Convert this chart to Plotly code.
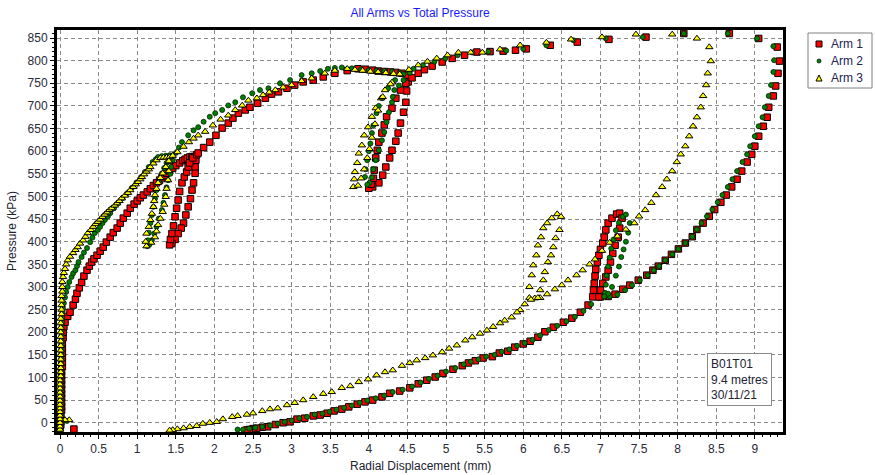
import plotly.graph_objects as go

# ---------------- data (radial displacement mm, pressure kPa) ----------------
series_names = ["Arm 1", "Arm 2", "Arm 3"]

arm1_pts = [
    (0.18, -14), (0.0, -12), (0.01, -5), (0.01, 2), (0.01, 10), (0.01, 18), (0.02, 27), (0.02, 36),
    (0.02, 45), (0.02, 55), (0.02, 64), (0.02, 74), (0.02, 84), (0.02, 94), (0.02, 104), (0.02, 114),
    (0.03, 124), (0.03, 134), (0.03, 144), (0.03, 154), (0.03, 165), (0.03, 176), (0.04, 188),
    (0.04, 200), (0.05, 212), (0.065, 222), (0.1, 235), (0.13, 244), (0.17, 260), (0.2, 273),
    (0.22, 286), (0.25, 298), (0.28, 310), (0.31, 324), (0.35, 337), (0.38, 346), (0.41, 355),
    (0.44, 362), (0.48, 370), (0.52, 379), (0.56, 388), (0.6, 399), (0.65, 410), (0.69, 420),
    (0.74, 430), (0.78, 441), (0.82, 452), (0.87, 463), (0.91, 474), (0.96, 483), (1.0, 490),
    (1.04, 497), (1.08, 503), (1.13, 510), (1.17, 517), (1.21, 524), (1.25, 530), (1.29, 536),
    (1.32, 541), (1.35, 546), (1.38, 551), (1.42, 557), (1.46, 562), (1.5, 568), (1.55, 574),
    (1.59, 579), (1.62, 582), (1.65, 585), (1.68, 587), (1.71, 588), (1.74, 588),
    (1.76, 580), (1.75, 565), (1.75, 551), (1.73, 530), (1.71, 514), (1.69, 495), (1.66, 477),
    (1.63, 459), (1.6, 441), (1.57, 430), (1.53, 418), (1.49, 405), (1.45, 396), (1.42, 393),
    (1.43, 405), (1.45, 418), (1.47, 435), (1.49, 455), (1.51, 474), (1.53, 492), (1.55, 511),
    (1.58, 530), (1.61, 543), (1.64, 554), (1.66, 565), (1.68, 574), (1.72, 585), (1.77, 592),
    (1.79, 596), (1.86, 608), (1.94, 620), (2.02, 635), (2.1, 651), (2.18, 662), (2.24, 673),
    (2.31, 684), (2.4, 691), (2.46, 697), (2.56, 706), (2.66, 717), (2.74, 726), (2.83, 731),
    (2.94, 739), (3.04, 746), (3.15, 753), (3.28, 757), (3.41, 764), (3.56, 772), (3.72, 778),
    (3.86, 782), (3.95, 781), (4.05, 779), (4.12, 777), (4.2, 776), (4.28, 775), (4.35, 774),
    (4.43, 772), (4.5, 768),
    (4.51, 753), (4.49, 733), (4.48, 708), (4.45, 686), (4.41, 662), (4.38, 640), (4.35, 622),
    (4.3, 602), (4.27, 585), (4.22, 565), (4.18, 547), (4.13, 530), (4.05, 521), (4.0, 518),
    (4.03, 527), (4.06, 540), (4.07, 558), (4.09, 585), (4.11, 602), (4.13, 620), (4.17, 640),
    (4.2, 658), (4.23, 676), (4.3, 695), (4.35, 717), (4.41, 735), (4.48, 750),
    (4.56, 762), (4.64, 772), (4.72, 780), (4.82, 788), (4.95, 797), (5.08, 805), (5.24, 812),
    (5.4, 819), (5.57, 820), (5.74, 821), (5.9, 823), (6.04, 826), (6.35, 834), (6.7, 841),
    (7.11, 847), (7.59, 852), (8.08, 860), (8.67, 860), (9.05, 849), (9.29, 830), (9.32, 799),
    (9.3, 772), (9.27, 744), (9.24, 722), (9.18, 697), (9.16, 675), (9.11, 655), (9.05, 633),
    (9.0, 611), (8.96, 593), (8.9, 576), (8.83, 556), (8.77, 538), (8.7, 521), (8.63, 503),
    (8.56, 487), (8.48, 471), (8.41, 456), (8.33, 441), (8.25, 427), (8.19, 411), (8.1, 397),
    (8.01, 384), (7.92, 372), (7.84, 359), (7.75, 346), (7.68, 337), (7.6, 326), (7.49, 315),
    (7.38, 304), (7.29, 295), (7.19, 284), (7.1, 279), (7.0, 278), (6.9, 278),
    (6.91, 293), (6.92, 308), (6.93, 324), (6.94, 339), (6.96, 355), (6.98, 370), (7.0, 383),
    (7.03, 397), (7.05, 410), (7.07, 426), (7.1, 441), (7.15, 452), (7.21, 461), (7.25, 463),
    (7.28, 452), (7.25, 430), (7.23, 410), (7.19, 392), (7.16, 374), (7.13, 355), (7.1, 337),
    (7.07, 322), (7.03, 308), (7.0, 293), (6.98, 278),
    (6.84, 260), (6.74, 244), (6.63, 231), (6.52, 222), (6.39, 211), (6.28, 201), (6.19, 189),
    (6.09, 180), (6.0, 174), (5.89, 167), (5.8, 158), (5.69, 154), (5.6, 146), (5.48, 143),
    (5.38, 137), (5.29, 132), (5.21, 126), (5.09, 118), (4.96, 109), (4.86, 101), (4.75, 94),
    (4.64, 86), (4.53, 77), (4.4, 70), (4.27, 65), (4.17, 57), (4.05, 50), (3.95, 46), (3.85, 41),
    (3.74, 35), (3.65, 30), (3.55, 26), (3.46, 21), (3.37, 17), (3.28, 15), (3.17, 10), (3.07, 8),
    (2.98, 2), (2.89, 0), (2.79, -4), (2.69, -9), (2.62, -10), (2.55, -12), (2.5, -13),
    (2.45, -15), (2.42, -16),
]

arm2_pts = [
    (0.09, 4), (0.0, -15), (0.0, -8), (0.0, 0), (0.0, 8), (0.01, 16), (0.01, 25), (0.01, 34),
    (0.01, 43), (0.01, 52), (0.01, 62), (0.01, 72), (0.01, 82), (0.01, 92), (0.01, 102),
    (0.01, 112), (0.01, 122), (0.01, 132), (0.02, 142), (0.02, 152), (0.02, 162), (0.02, 172),
    (0.02, 182), (0.02, 192), (0.02, 202), (0.02, 212), (0.03, 222), (0.03, 232), (0.03, 242),
    (0.04, 252), (0.05, 264), (0.065, 277), (0.08, 289), (0.1, 300), (0.12, 311), (0.15, 322),
    (0.17, 330), (0.2, 337), (0.22, 346), (0.24, 355), (0.28, 366), (0.31, 376), (0.35, 386),
    (0.39, 399), (0.42, 409), (0.45, 419), (0.49, 426), (0.52, 433), (0.55, 441), (0.58, 448),
    (0.62, 456), (0.65, 463), (0.7, 474), (0.75, 485), (0.81, 496), (0.87, 507), (0.93, 519),
    (0.99, 531), (1.05, 543), (1.1, 554), (1.15, 565), (1.2, 576), (1.24, 582), (1.27, 587),
    (1.32, 589), (1.37, 590), (1.42, 591), (1.46, 591),
    (1.46, 580), (1.44, 565), (1.43, 550), (1.4, 536), (1.38, 520), (1.36, 503), (1.34, 486),
    (1.32, 470), (1.28, 451), (1.25, 433), (1.22, 418), (1.19, 403), (1.16, 394), (1.13, 390),
    (1.14, 403), (1.15, 420), (1.17, 441), (1.19, 459), (1.21, 477), (1.23, 495), (1.25, 514),
    (1.28, 532), (1.32, 551), (1.35, 563), (1.38, 574), (1.44, 588), (1.5, 596),
    (1.54, 608), (1.58, 620), (1.66, 635), (1.73, 646), (1.79, 653), (1.86, 665), (1.94, 676),
    (2.01, 684), (2.1, 691), (2.18, 701), (2.27, 708), (2.37, 719), (2.49, 728), (2.59, 735),
    (2.7, 739), (2.85, 750), (2.98, 757), (3.13, 768), (3.26, 772), (3.37, 777), (3.47, 782),
    (3.56, 784), (3.65, 785), (3.78, 783), (3.9, 781), (4.0, 779), (4.1, 778), (4.2, 777),
    (4.3, 776), (4.4, 774), (4.53, 773),
    (4.45, 757), (4.39, 745), (4.33, 735), (4.31, 720), (4.3, 708), (4.26, 686), (4.23, 664),
    (4.2, 642), (4.17, 624), (4.13, 602), (4.09, 580), (4.06, 560), (4.04, 542), (4.01, 530),
    (3.98, 526),
    (3.95, 543), (3.96, 560), (3.98, 580), (4.0, 600), (4.02, 617), (4.04, 640), (4.06, 657),
    (4.1, 684), (4.13, 700), (4.17, 717), (4.25, 739), (4.34, 757), (4.45, 770),
    (4.58, 782), (4.7, 790), (4.85, 798), (4.99, 805), (5.15, 812), (5.34, 818), (5.55, 820),
    (5.78, 822), (6.0, 826), (6.3, 834), (6.65, 845), (7.07, 849), (7.55, 852), (8.08, 860),
    (8.65, 860), (9.03, 849), (9.24, 832), (9.25, 801),
    (9.24, 775), (9.21, 746), (9.18, 722), (9.13, 697), (9.1, 675), (9.05, 655), (9.0, 633),
    (8.94, 611), (8.9, 593), (8.84, 576), (8.77, 556), (8.71, 538), (8.65, 521), (8.58, 503),
    (8.52, 487), (8.45, 471), (8.38, 456), (8.31, 441), (8.25, 427), (8.19, 411), (8.1, 397),
    (8.01, 384), (7.93, 372), (7.84, 359), (7.76, 346), (7.69, 337), (7.61, 326), (7.51, 315),
    (7.41, 304), (7.32, 293), (7.22, 283), (7.12, 279), (7.06, 279),
    (7.06, 287), (7.07, 305), (7.08, 325), (7.1, 345), (7.12, 365), (7.14, 385), (7.17, 405),
    (7.2, 425), (7.24, 442), (7.29, 455), (7.33, 460),
    (7.38, 441), (7.36, 420), (7.33, 400), (7.3, 383), (7.27, 366), (7.24, 345), (7.2, 325),
    (7.15, 300), (7.1, 285), (7.05, 279),
    (6.88, 262), (6.78, 247), (6.67, 234), (6.56, 224), (6.44, 214), (6.33, 205), (6.22, 193),
    (6.12, 183), (6.02, 176), (5.92, 170), (5.82, 162), (5.72, 157), (5.63, 150), (5.52, 146),
    (5.42, 140), (5.32, 135), (5.23, 129), (5.12, 121), (5.0, 113), (4.89, 104), (4.78, 97),
    (4.67, 89), (4.56, 80), (4.44, 73), (4.31, 68), (4.2, 60), (4.09, 54), (3.98, 49), (3.88, 44),
    (3.78, 38), (3.68, 33), (3.58, 29), (3.49, 24), (3.4, 20), (3.3, 18), (3.2, 13), (3.1, 10),
    (3.0, 5), (2.91, 2), (2.82, -2), (2.72, -6), (2.62, -9), (2.53, -11), (2.45, -13),
    (2.37, -15), (2.3, -15),
]

arm3_pts = [
    (0.12, 6), (0.065, 6), (0.0, -15), (0.0, -8), (0.0, 0), (0.0, 8), (0.0, 16), (0.0, 24),
    (0.0, 32), (0.0, 40), (0.0, 49), (0.0, 58), (0.0, 67), (0.0, 76), (0.0, 85), (0.0, 94),
    (0.01, 103), (0.01, 112), (0.01, 121), (0.01, 130), (0.01, 140), (0.01, 150), (0.01, 160),
    (0.01, 170), (0.01, 180), (0.01, 190), (0.01, 200), (0.01, 210), (0.01, 220), (0.01, 230),
    (0.02, 240), (0.02, 250), (0.02, 260), (0.02, 270), (0.02, 280), (0.03, 290), (0.03, 300),
    (0.03, 311), (0.04, 322), (0.05, 331), (0.065, 340), (0.08, 350), (0.1, 359), (0.13, 367),
    (0.17, 375), (0.2, 382), (0.23, 388), (0.26, 396), (0.3, 403), (0.33, 411), (0.36, 419),
    (0.4, 426), (0.43, 433), (0.46, 439), (0.49, 444), (0.52, 449), (0.55, 455), (0.58, 460),
    (0.61, 465), (0.64, 470), (0.67, 474), (0.71, 480), (0.74, 485), (0.77, 490), (0.8, 496),
    (0.84, 502), (0.88, 508), (0.91, 514), (0.95, 521), (0.98, 527), (1.01, 532), (1.04, 538),
    (1.06, 543), (1.09, 549), (1.12, 555), (1.15, 560), (1.17, 565), (1.21, 573), (1.25, 580),
    (1.3, 585), (1.34, 586), (1.38, 586), (1.42, 587),
    (1.42, 576), (1.41, 556), (1.4, 536), (1.38, 517), (1.37, 499), (1.35, 482), (1.33, 466),
    (1.3, 451), (1.27, 437), (1.25, 423), (1.23, 410), (1.18, 398), (1.12, 390),
    (1.11, 400), (1.12, 418), (1.15, 433), (1.17, 448), (1.19, 462), (1.21, 477), (1.22, 490),
    (1.23, 503), (1.25, 517), (1.27, 530), (1.3, 541), (1.33, 551), (1.37, 565), (1.41, 578),
    (1.46, 590),
    (1.52, 598), (1.6, 610), (1.67, 620), (1.73, 628), (1.79, 635), (1.88, 643), (1.98, 657),
    (2.08, 670), (2.18, 679), (2.27, 691), (2.36, 701), (2.44, 712), (2.55, 717), (2.63, 724),
    (2.71, 730), (2.79, 735), (2.89, 741), (3.0, 746), (3.13, 755), (3.26, 761), (3.43, 772),
    (3.56, 778), (3.72, 782), (3.82, 780), (3.92, 778), (4.02, 776), (4.12, 775), (4.22, 773),
    (4.32, 771), (4.4, 770),
    (4.3, 752), (4.21, 735), (4.16, 717), (4.09, 695), (4.04, 676), (3.99, 653), (3.94, 635),
    (3.91, 613), (3.87, 595), (3.85, 574), (3.82, 554), (3.81, 538), (3.8, 521),
    (3.86, 524), (3.9, 540), (3.94, 560), (3.98, 585), (4.01, 605), (4.04, 630), (4.08, 660),
    (4.12, 690), (4.18, 720), (4.28, 748), (4.4, 770),
    (4.52, 780), (4.64, 790), (4.76, 798), (4.88, 805), (5.02, 812), (5.16, 818), (5.32, 818),
    (5.47, 818), (5.7, 825), (5.96, 834), (6.3, 840), (6.62, 847), (7.02, 852), (7.46, 858),
    (7.93, 858), (8.25, 849), (8.41, 830), (8.43, 799),
    (8.39, 772), (8.37, 746), (8.33, 722), (8.3, 697), (8.25, 675), (8.2, 655), (8.15, 633),
    (8.1, 611), (8.04, 593), (7.99, 576), (7.93, 556), (7.86, 538), (7.8, 521), (7.72, 503),
    (7.66, 486), (7.58, 470), (7.5, 456), (7.44, 441), (7.33, 427), (7.22, 412), (7.12, 398),
    (7.02, 380), (6.93, 361), (6.86, 350), (6.77, 337), (6.69, 326), (6.58, 315), (6.5, 304),
    (6.41, 295), (6.31, 284), (6.22, 276), (6.15, 275), (6.08, 276),
    (6.08, 300), (6.11, 326), (6.13, 348), (6.17, 370), (6.19, 392), (6.23, 410), (6.26, 430),
    (6.31, 441), (6.37, 452), (6.44, 461),
    (6.49, 455), (6.47, 426), (6.42, 408), (6.39, 388), (6.36, 370), (6.32, 355), (6.28, 333),
    (6.26, 315), (6.22, 293), (6.19, 276), (6.1, 272),
    (6.02, 262), (5.96, 249), (5.92, 244), (5.85, 233), (5.76, 226), (5.7, 220), (5.61, 212),
    (5.53, 204), (5.44, 197), (5.34, 189), (5.25, 182), (5.14, 171), (5.04, 164), (4.95, 156),
    (4.83, 149), (4.73, 143), (4.62, 138), (4.53, 132), (4.43, 126), (4.31, 116), (4.21, 112),
    (4.1, 105), (3.99, 96), (3.87, 90), (3.76, 81), (3.65, 77), (3.52, 68), (3.41, 64),
    (3.28, 57), (3.15, 50), (3.04, 44), (2.94, 39), (2.82, 32), (2.72, 30), (2.62, 26),
    (2.5, 21), (2.42, 18), (2.3, 15), (2.23, 13), (2.11, 8), (2.03, 2), (1.94, 0), (1.85, -2),
    (1.77, -7), (1.68, -9), (1.6, -12), (1.52, -14), (1.46, -16), (1.42, -17),
]

x_tick_vals = [0, 0.5, 1, 1.5, 2, 2.5, 3, 3.5, 4, 4.5, 5, 5.5, 6, 6.5, 7, 7.5, 8, 8.5, 9]
x_tick_text = ["0", "0.5", "1", "1.5", "2", "2.5", "3", "3.5", "4", "4.5", "5", "5.5", "6",
               "6.5", "7", "7.5", "8", "8.5", "9"]
y_tick_vals = [0, 50, 100, 150, 200, 250, 300, 350, 400, 450, 500, 550, 600, 650, 700, 750, 800, 850]

info_lines = ["B01T01", "9.4 metres", "30/11/21"]

# ---------------- styling ----------------
FONT = "Liberation Sans, Arial, sans-serif"
W, H = 875, 475
L, R, T, B = 57, 783, 30, 432  # plot area in pixels


def px(xpix):
    return (xpix - L) / (R - L)


def py(ypix):
    return (B - ypix) / (B - T)


styles = [
    dict(symbol="square", size=6.5, color="#ff0000", line=dict(color="black", width=1)),
    dict(symbol="circle", size=5, color="#008000", line=dict(color="#002000", width=0.8)),
    dict(symbol="triangle-up", size=6.5, color="#ffff00", line=dict(color="black", width=1)),
]

fig = go.Figure()
for name, pts, st in zip(series_names, [arm1_pts, arm2_pts, arm3_pts], styles):
    xs, ys = zip(*pts)
    fig.add_trace(go.Scatter(x=list(xs), y=list(ys), mode="markers", name=name,
                             marker=st, showlegend=False, cliponaxis=False))

grid = dict(showgrid=True, gridcolor="#8a8a8a", gridwidth=1, griddash="4px,3px")
axis_common = dict(showline=True, linecolor="black", linewidth=3, mirror=True,
                   ticks="outside", tickcolor="black", ticklen=4, zeroline=False,
                   tickfont=dict(family=FONT, size=12, color="#2a2a3a"))

fig.update_xaxes(range=[-0.039, 9.365], tickvals=x_tick_vals, ticktext=x_tick_text,
                 minor=dict(dtick=0.1, tick0=0, ticks="outside", ticklen=2, tickcolor="black",
                            showgrid=False),
                 **grid, **axis_common)
fig.update_yaxes(range=[-20.5, 867.7], tickvals=y_tick_vals,
                 minor=dict(dtick=10, tick0=0, ticks="outside", ticklen=2, tickcolor="black",
                            showgrid=False),
                 **grid, **axis_common)

shapes = []
annotations = []

# legend box (manual)
shapes.append(dict(type="rect", xref="paper", yref="paper", x0=px(808), x1=px(872),
                   y0=py(88), y1=py(33), line=dict(color="#808080", width=1),
                   fillcolor="white", layer="above"))
leg_y = [44, 61, 78]
# square
shapes.append(dict(type="rect", xref="paper", yref="paper", x0=px(816), x1=px(822),
                   y0=py(leg_y[0] + 3), y1=py(leg_y[0] - 3), fillcolor="#ff0000",
                   line=dict(color="black", width=1), layer="above"))
# circle
shapes.append(dict(type="circle", xref="paper", yref="paper", x0=px(817), x1=px(821),
                   y0=py(leg_y[1] + 2), y1=py(leg_y[1] - 2), fillcolor="#008000",
                   line=dict(color="#002000", width=0.8), layer="above"))
# triangle
tx0, tx1, txm = px(816), px(822), px(819)
ty0, ty1 = py(leg_y[2] + 3), py(leg_y[2] - 3)
shapes.append(dict(type="path", xref="paper", yref="paper",
                   path=f"M {tx0} {ty0} L {tx1} {ty0} L {txm} {ty1} Z",
                   fillcolor="#ffff00", line=dict(color="black", width=1), layer="above"))
for name, yy in zip(series_names, leg_y):
    annotations.append(dict(xref="paper", yref="paper", x=px(829), y=py(yy), text=name,
                            showarrow=False, xanchor="left", yanchor="middle",
                            font=dict(family=FONT, size=12, color="#222255")))

# info box
annotations.append(dict(xref="paper", yref="paper", x=px(707), y=py(353),
                        text="<br>".join(info_lines), showarrow=False, xanchor="left",
                        yanchor="top", align="left", bgcolor="white", bordercolor="#8a8a8a",
                        borderwidth=1, borderpad=3,
                        font=dict(family=FONT, size=12, color="#222233")))

# axis titles
annotations.append(dict(xref="paper", yref="paper", x=0.5, y=py(466),
                        text="Radial Displacement (mm)", showarrow=False, xanchor="center",
                        yanchor="middle", font=dict(family=FONT, size=12, color="#222233")))
annotations.append(dict(xref="paper", yref="paper", x=px(12), y=py(231),
                        text="Pressure (kPa)", showarrow=False, textangle=-90,
                        xanchor="center", yanchor="middle",
                        font=dict(family=FONT, size=12, color="#222233")))

fig.update_layout(
    width=W, height=H,
    margin=dict(l=L, r=W - R, t=T, b=H - B),
    paper_bgcolor="white", plot_bgcolor="white",
    title=dict(text="All Arms vs Total Pressure", x=0.5, xref="paper", y=1 - 13 / H,
               yref="container", xanchor="center", yanchor="middle",
               font=dict(family=FONT, size=12, color="#1a1aff")),
    shapes=shapes, annotations=annotations, showlegend=False,
)

fig.write_html(
    "out.html",
    config={"displayModeBar": False},
    post_script="document.body.style.margin='0px';document.body.style.overflow='hidden';",
)
